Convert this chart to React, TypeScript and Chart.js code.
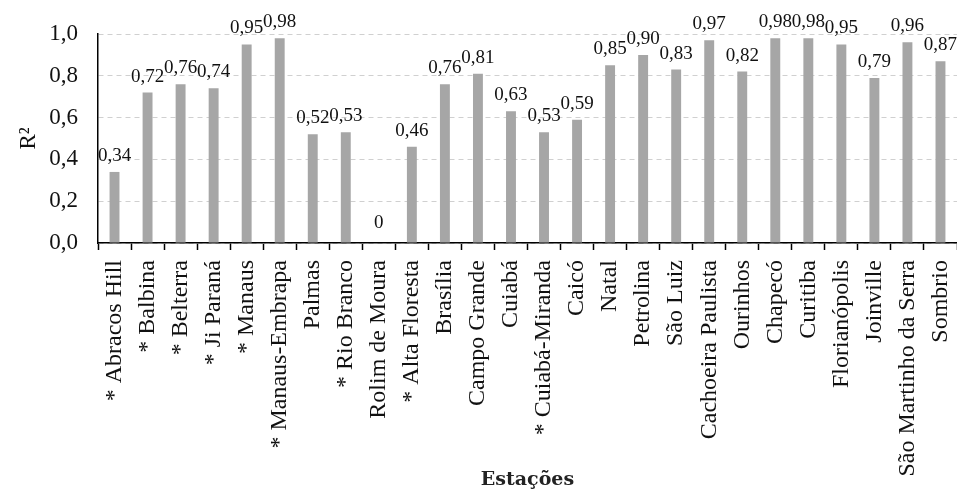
import React, { useEffect, useRef } from "react";
import { Chart, registerables } from "chart.js";

Chart.register(...registerables);

const categories: string[] = [
  "* Abracos Hill",
  "* Balbina",
  "* Belterra",
  "* Ji Paraná",
  "* Manaus",
  "* Manaus-Embrapa",
  "Palmas",
  "* Rio Branco",
  "Rolim de Moura",
  "* Alta Floresta",
  "Brasília",
  "Campo Grande",
  "Cuiabá",
  "* Cuiabá-Miranda",
  "Caicó",
  "Natal",
  "Petrolina",
  "São Luiz",
  "Cachoeira Paulista",
  "Ourinhos",
  "Chapecó",
  "Curitiba",
  "Florianópolis",
  "Joinville",
  "São Martinho da Serra",
  "Sombrio",
];

const r2Values: number[] = [
  0.34, 0.72, 0.76, 0.74, 0.95, 0.98, 0.52, 0.53, 0, 0.46, 0.76, 0.81, 0.63,
  0.53, 0.59, 0.85, 0.9, 0.83, 0.97, 0.82, 0.98, 0.98, 0.95, 0.79, 0.96, 0.87,
];

const yTicks: number[] = [0, 0.2, 0.4, 0.6, 0.8, 1.0];

const SERIF = "'Liberation Serif', 'Times New Roman', serif";

const fmtTick = (v: number) => v.toFixed(1).replace(".", ",");
const fmtLabel = (v: number) => (v === 0 ? "0" : v.toFixed(2).replace(".", ","));

const valueLabels = {
  id: "valueLabels",
  afterDatasetsDraw(chart: any) {
    const ctx = chart.ctx;
    const meta = chart.getDatasetMeta(0);
    ctx.save();
    ctx.font = `19px ${SERIF}`;
    ctx.fillStyle = "#111";
    ctx.textAlign = "center";
    ctx.textBaseline = "middle";
    meta.data.forEach((bar: any, i: number) => {
      const v = chart.data.datasets[0].data[i] as number;
      ctx.fillText(fmtLabel(v), bar.x, bar.y - (v === 0 ? 20 : 16));
    });
    ctx.restore();
  },
};

export default function App() {
  const canvasRef = useRef<HTMLCanvasElement | null>(null);

  useEffect(() => {
    if (!canvasRef.current) return;
    const chart = new Chart(canvasRef.current, {
      type: "bar",
      data: {
        labels: categories,
        datasets: [
          {
            data: r2Values,
            backgroundColor: "#a6a6a6",
            borderWidth: 0,
            barPercentage: 0.6,
            categoryPercentage: 0.5,
          },
        ],
      },
      options: {
        responsive: false,
        animation: false,
        layout: { padding: { top: 34, left: 0, right: 0, bottom: 0 } },
        plugins: {
          legend: { display: false },
          tooltip: { enabled: false },
          title: { display: false },
        },
        scales: {
          x: {
            offset: true,
            afterFit: (s: any) => {
              s.height = 256;
              s.paddingLeft = 0;
              s.paddingRight = 0;
            },
            grid: {
              display: true,
              offset: true,
              drawOnChartArea: false,
              drawTicks: true,
              tickLength: 7,
              tickColor: "#000",
              tickWidth: 1.5,
            },
            border: { display: true, color: "#000", width: 1.5 },
            ticks: {
              autoSkip: false,
              maxRotation: 90,
              minRotation: 90,
              padding: 10,
              color: "#111",
              font: { family: SERIF, size: 24 },
            },
            title: {
              display: true,
              text: "Estações",
              color: "#222",
              font: { family: "'DejaVu Serif', serif", size: 19, weight: "bold" },
              padding: { top: -60, bottom: 8 },
            },
          },
          y: {
            min: 0,
            max: 1,
            afterFit: (s: any) => {
              s.width = 98;
            },
            afterBuildTicks: (s: any) => {
              s.ticks = yTicks.map((v) => ({ value: v }));
            },
            grid: {
              color: "#d0d0d0",
              lineWidth: 1,
              drawTicks: false,
            },
            border: { display: true, color: "#000", width: 1.5, dash: [5, 4] },
            ticks: {
              padding: 20,
              color: "#111",
              font: { family: SERIF, size: 23 },
              callback: (v: any) => fmtTick(Number(v)),
            },
            title: {
              display: true,
              text: "R²",
              color: "#111",
              font: { family: SERIF, size: 23 },
              padding: { top: 15, bottom: 0 },
            },
          },
        },
      },
      plugins: [valueLabels],
    });
    return () => chart.destroy();
  }, []);

  return (
    <div style={{ position: "absolute", left: 0, top: 0, width: 957, height: 499, background: "#fff" }}>
      <canvas ref={canvasRef} width={957} height={499} style={{ display: "block" }} />
    </div>
  );
}
